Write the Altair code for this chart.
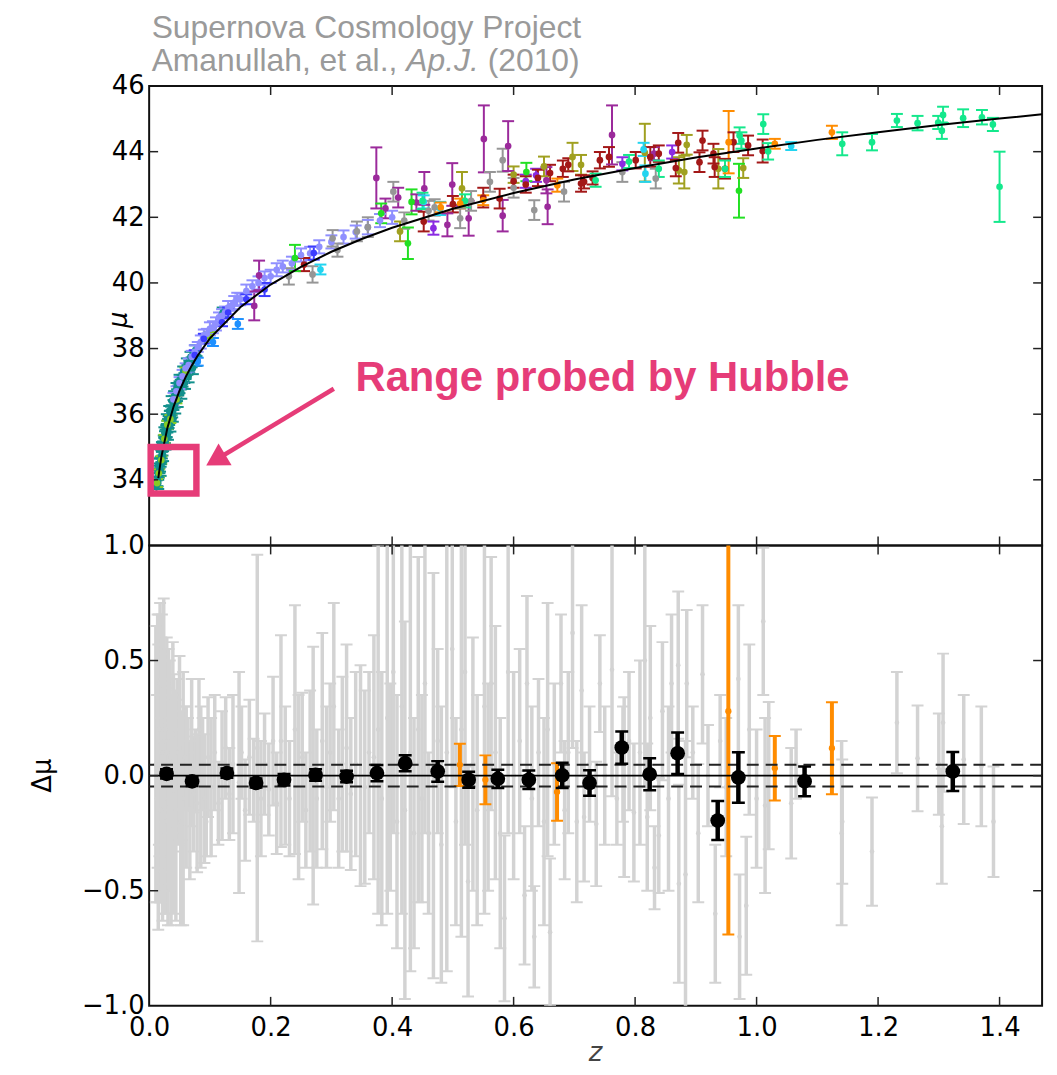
import altair as alt
import pandas as pd

# ---------------------------------------------------------------
# Union2 Hubble diagram: (redshift, distance modulus, 1-sigma error)
# one list per sample, coloured by sample
# ---------------------------------------------------------------
TEAL = [(0.012, 33.80, 0.18), (0.013, 33.95, 0.15), (0.014, 34.00, 0.20), (0.015, 34.15, 0.15),
        (0.016, 34.25, 0.18), (0.017, 34.35, 0.15), (0.018, 34.45, 0.20), (0.019, 34.55, 0.15),
        (0.020, 34.72, 0.18), (0.021, 34.80, 0.15), (0.022, 34.92, 0.18), (0.023, 35.02, 0.15),
        (0.024, 35.15, 0.20), (0.025, 35.12, 0.15), (0.026, 35.30, 0.18), (0.027, 35.38, 0.15),
        (0.028, 35.48, 0.18), (0.029, 35.45, 0.15), (0.030, 35.62, 0.18), (0.031, 35.70, 0.15),
        (0.032, 35.76, 0.18), (0.033, 35.82, 0.15), (0.034, 35.92, 0.18), (0.035, 35.96, 0.15),
        (0.036, 36.05, 0.18), (0.037, 36.12, 0.15), (0.038, 36.08, 0.18), (0.040, 36.28, 0.15),
        (0.042, 36.38, 0.18), (0.044, 36.52, 0.15), (0.046, 36.58, 0.18), (0.048, 36.72, 0.15),
        (0.050, 36.82, 0.18), (0.052, 36.90, 0.15), (0.055, 37.02, 0.18), (0.058, 37.10, 0.15),
        (0.060, 37.25, 0.18), (0.063, 37.35, 0.15), (0.066, 37.45, 0.18), (0.070, 37.58, 0.15),
        (0.078, 37.62, 0.15), (0.121, 39.10, 0.15),
        (0.015, 33.90, 0.18), (0.017, 34.50, 0.15), (0.019, 34.30, 0.18), (0.021, 35.00, 0.15),
        (0.023, 34.75, 0.18), (0.025, 35.45, 0.15), (0.027, 35.10, 0.18), (0.029, 35.85, 0.15),
        (0.031, 35.40, 0.18), (0.033, 36.10, 0.15), (0.035, 35.65, 0.18), (0.037, 36.40, 0.15),
        (0.039, 35.95, 0.18), (0.041, 36.55, 0.15), (0.043, 36.20, 0.18), (0.045, 36.80, 0.15),
        (0.047, 36.40, 0.18), (0.050, 37.05, 0.15), (0.053, 36.65, 0.18), (0.056, 37.30, 0.15),
        (0.059, 36.95, 0.18), (0.062, 37.55, 0.15), (0.065, 37.15, 0.18), (0.068, 37.75, 0.15),
        (0.072, 37.40, 0.18), (0.076, 37.95, 0.15)]

YELLOWGREEN = [(0.013, 33.90, 0.12), (0.016, 34.20, 0.12), (0.020, 34.60, 0.12), (0.025, 35.25, 0.12),
               (0.030, 35.68, 0.12), (0.035, 35.85, 0.12), (0.045, 36.45, 0.12), (0.060, 37.30, 0.12),
               (0.100, 38.35, 0.15)]

LAVENDER = [(0.040, 36.45, 0.20), (0.045, 36.70, 0.15), (0.050, 36.95, 0.18), (0.055, 37.15, 0.20),
            (0.060, 37.40, 0.15), (0.065, 37.50, 0.20), (0.070, 37.75, 0.18), (0.075, 37.90, 0.20),
            (0.080, 38.05, 0.15), (0.085, 38.20, 0.20), (0.090, 38.40, 0.18), (0.095, 38.45, 0.15),
            (0.100, 38.60, 0.20), (0.105, 38.65, 0.18), (0.110, 38.75, 0.20), (0.115, 38.95, 0.15),
            (0.120, 39.00, 0.20), (0.125, 39.10, 0.18), (0.130, 39.25, 0.20), (0.135, 39.30, 0.15),
            (0.140, 39.40, 0.20), (0.145, 39.50, 0.20), (0.150, 39.50, 0.18), (0.160, 39.75, 0.20),
            (0.170, 39.90, 0.18), (0.180, 40.00, 0.20), (0.190, 40.15, 0.20), (0.200, 40.20, 0.20),
            (0.210, 40.40, 0.20), (0.220, 40.50, 0.18), (0.235, 40.60, 0.20), (0.250, 40.85, 0.20),
            (0.265, 40.90, 0.20), (0.280, 41.10, 0.20), (0.300, 41.25, 0.20), (0.320, 41.40, 0.20),
            (0.340, 41.55, 0.20), (0.360, 41.70, 0.22), (0.380, 41.90, 0.20), (0.400, 42.00, 0.20)]

BLUE = [(0.075, 37.80, 0.15), (0.090, 38.30, 0.15), (0.120, 38.80, 0.12), (0.130, 39.10, 0.15),
        (0.160, 39.50, 0.15), (0.190, 39.80, 0.20), (0.271, 40.91, 0.20)]

DODGER = [(0.080, 37.60, 0.12), (0.105, 38.20, 0.12), (0.146, 38.75, 0.15)]

GREY_TOP = [(0.230, 40.20, 0.25), (0.269, 40.26, 0.25), (0.302, 41.36, 0.25), (0.310, 41.00, 0.20),
            (0.342, 41.57, 0.30), (0.360, 41.70, 0.30), (0.402, 42.78, 0.30), (0.420, 41.90, 0.25),
            (0.460, 42.20, 0.30), (0.470, 42.30, 0.25), (0.512, 41.97, 0.30), (0.530, 42.50, 0.30),
            (0.561, 43.08, 0.30), (0.582, 43.74, 0.35), (0.600, 42.90, 0.30), (0.634, 42.22, 0.30),
            (0.683, 42.78, 0.30), (0.779, 43.38, 0.30), (0.834, 43.18, 0.30)]

OLIVE = [(0.413, 41.57, 0.30), (0.515, 42.88, 0.50), (0.600, 43.30, 0.25), (0.650, 43.55, 0.30),
         (0.697, 43.84, 0.43), (0.711, 43.60, 0.30), (0.816, 43.97, 0.88), (0.872, 43.43, 0.40),
         (0.881, 43.38, 0.50), (0.885, 44.21, 0.30), (0.937, 43.48, 0.60), (0.978, 43.50, 0.30)]

VIOLET = [(0.468, 41.67, 0.20), (0.620, 43.10, 0.20), (0.637, 43.28, 0.20), (0.779, 43.63, 0.20),
          (0.861, 43.99, 0.20)]

PURPLE = [(0.173, 39.30, 0.44), (0.181, 40.23, 0.45), (0.374, 43.20, 0.93), (0.389, 42.27, 0.30),
          (0.410, 42.60, 0.30), (0.440, 42.45, 0.25), (0.453, 42.88, 0.50), (0.491, 41.77, 0.35),
          (0.499, 43.00, 0.65), (0.526, 41.97, 0.53), (0.551, 44.39, 1.02), (0.582, 42.05, 0.48),
          (0.591, 44.17, 0.76), (0.654, 43.13, 0.40), (0.656, 42.32, 0.53), (0.762, 44.51, 0.90),
          (0.831, 43.94, 0.20)]

DARKRED = [(0.255, 40.56, 0.20), (0.452, 41.87, 0.30), (0.500, 42.40, 0.25), (0.550, 42.60, 0.30),
           (0.577, 42.57, 0.30), (0.600, 43.10, 0.20), (0.620, 43.00, 0.25), (0.640, 43.20, 0.25),
           (0.660, 43.35, 0.25), (0.681, 43.48, 0.25), (0.690, 43.60, 0.20), (0.711, 43.03, 0.25),
           (0.716, 43.08, 0.20), (0.730, 43.20, 0.20), (0.742, 43.74, 0.25), (0.757, 43.84, 0.30),
           (0.801, 43.74, 0.25), (0.825, 43.84, 0.30), (0.839, 43.94, 0.25), (0.867, 43.50, 0.25),
           (0.871, 44.27, 0.30), (0.906, 43.68, 0.30), (0.911, 44.34, 0.30), (0.929, 43.94, 0.30),
           (0.931, 43.53, 0.30), (0.948, 43.48, 0.30), (0.962, 44.29, 0.30), (0.986, 44.19, 0.30),
           (1.010, 44.02, 0.35)]

CYAN = [(0.282, 40.41, 0.15), (0.452, 42.47, 0.20), (0.479, 42.27, 0.20), (0.814, 44.07, 0.20),
        (0.817, 43.33, 0.25), (1.057, 44.17, 0.12)]

LIME = [(0.240, 40.76, 0.40), (0.382, 42.12, 0.30), (0.426, 41.21, 0.48), (0.432, 42.47, 0.38),
        (0.621, 43.38, 0.28), (0.971, 42.81, 0.82)]

SPRING = [(0.450, 42.50, 0.25), (0.520, 42.50, 0.20), (0.735, 43.13, 0.20), (0.790, 43.70, 0.20),
          (0.839, 43.48, 0.25), (0.948, 43.48, 0.25), (0.972, 44.49, 0.25), (0.975, 44.34, 0.25),
          (1.011, 44.84, 0.30), (1.019, 44.01, 0.25), (1.141, 44.24, 0.35), (1.190, 44.29, 0.25),
          (1.231, 44.95, 0.20), (1.265, 44.87, 0.22), (1.299, 44.89, 0.20), (1.305, 44.64, 0.25),
          (1.307, 45.12, 0.25), (1.340, 45.02, 0.27), (1.371, 45.05, 0.22), (1.389, 44.83, 0.20),
          (1.400, 42.93, 1.07)]

ORANGE_TOP = [(0.480, 42.30, 0.15), (0.512, 42.42, 0.15), (0.550, 42.52, 0.15), (0.672, 42.98, 0.20),
              (0.954, 44.29, 0.95), (1.030, 44.24, 0.15), (1.124, 44.59, 0.20)]

# drawing order and colour of each sample
SAMPLES = [
    (TEAL, "#12908c"), (YELLOWGREEN, "#86cc24"), (LAVENDER, "#8f8fff"), (BLUE, "#3c3cff"),
    (DODGER, "#1e90ff"), (GREY_TOP, "#969696"), (OLIVE, "#a0a020"), (VIOLET, "#8a2be2"),
    (PURPLE, "#9b2a9b"), (DARKRED, "#a31818"), (CYAN, "#22d4f0"), (LIME, "#22e022"),
    (SPRING, "#14e88c"), (ORANGE_TOP, "#ff8c00"),
]

# best-fit cosmology curve
CURVE_Z = [0.015, 0.02, 0.03, 0.04, 0.05, 0.06, 0.07, 0.08, 0.10, 0.15, 0.20, 0.25, 0.30,
           0.35, 0.40, 0.50, 0.60, 0.70, 0.80, 0.90, 1.00, 1.10, 1.20, 1.30, 1.40, 1.47]
CURVE_MU = [34.05, 34.69, 35.58, 36.22, 36.72, 37.13, 37.48, 37.79, 38.31, 39.26, 39.95, 40.49,
            40.95, 41.34, 41.68, 42.26, 42.74, 43.15, 43.50, 43.82, 44.10, 44.36, 44.59, 44.81,
            45.01, 45.14]

# ---------------------------------------------------------------
# Hubble residuals: (redshift, delta mu, 1-sigma error)
# ---------------------------------------------------------------
GREY_RES = [
    (0.011, 0.05, 0.60), (0.013, -0.10, 0.45), (0.014, 0.15, 0.55), (0.015, -0.05, 0.62),
    (0.016, 0.20, 0.50), (0.017, 0.00, 0.35), (0.018, 0.10, 0.65), (0.019, -0.15, 0.40),
    (0.020, 0.05, 0.55), (0.021, 0.25, 0.45), (0.022, -0.05, 0.58), (0.023, 0.10, 0.30),
    (0.024, 0.15, 0.62), (0.025, -0.10, 0.50), (0.026, 0.00, 0.42), (0.027, 0.20, 0.35),
    (0.028, -0.20, 0.40), (0.029, 0.05, 0.55), (0.030, 0.10, 0.28), (0.031, -0.05, 0.60),
    (0.032, 0.15, 0.40), (0.033, -0.12, 0.35), (0.034, 0.00, 0.50), (0.035, 0.08, 0.25),
    (0.036, -0.20, 0.45), (0.038, 0.05, 0.30), (0.039, 0.18, 0.40), (0.040, -0.08, 0.52),
    (0.042, 0.02, 0.35), (0.044, -0.15, 0.48), (0.046, 0.10, 0.32), (0.048, -0.05, 0.25),
    (0.050, 0.12, 0.40), (0.052, -0.20, 0.45), (0.054, 0.00, 0.28), (0.056, -0.10, 0.55),
    (0.058, 0.08, 0.22), (0.061, -0.05, 0.35), (0.064, 0.05, 0.20), (0.067, -0.15, 0.30),
    (0.070, 0.10, 0.32), (0.073, -0.08, 0.25), (0.076, 0.02, 0.18), (0.079, -0.12, 0.30),
    (0.082, 0.20, 0.22), (0.085, -0.05, 0.35), (0.088, 0.05, 0.20), (0.091, -0.10, 0.28),
    (0.094, -0.20, 0.15), (0.097, 0.08, 0.26),
    (0.102, -0.05, 0.30), (0.108, 0.10, 0.25), (0.114, -0.12, 0.18), (0.120, 0.00, 0.28),
    (0.126, 0.12, 0.22), (0.132, -0.08, 0.20), (0.138, 0.05, 0.30), (0.148, -0.03, 0.48),
    (0.152, 0.10, 0.20), (0.158, -0.15, 0.22), (0.165, 0.08, 0.25), (0.172, -0.02, 0.18),
    (0.178, 0.12, 0.84), (0.184, -0.10, 0.25), (0.190, 0.05, 0.22), (0.197, -0.06, 0.20),
    (0.204, 0.15, 0.28), (0.210, -0.12, 0.22), (0.217, 0.15, 0.46), (0.224, 0.00, 0.30),
    (0.231, -0.10, 0.25), (0.240, 0.20, 0.54), (0.246, -0.05, 0.40), (0.252, 0.08, 0.28),
    (0.258, -0.15, 0.25), (0.265, 0.02, 0.35), (0.270, 0.00, 0.56), (0.276, -0.10, 0.30),
    (0.285, 0.15, 0.47), (0.292, -0.05, 0.35), (0.298, 0.10, 0.30), (0.304, 0.30, 0.45),
    (0.312, -0.10, 0.30), (0.318, 0.05, 0.38), (0.325, 0.12, 0.45), (0.332, -0.08, 0.33),
    (0.340, 0.05, 0.40), (0.348, 0.00, 0.48), (0.355, -0.05, 0.42), (0.362, 0.10, 0.35),
    (0.370, 0.08, 0.53),
    (0.377, 0.20, 0.80), (0.383, -0.10, 0.55), (0.392, 0.25, 0.85), (0.397, -0.05, 0.45),
    (0.402, 0.45, 0.70), (0.408, -0.20, 0.55), (0.416, 0.30, 0.90), (0.421, -0.15, 0.82),
    (0.430, 0.10, 0.95), (0.436, -0.25, 0.50), (0.443, 0.20, 0.75), (0.449, -0.10, 0.45),
    (0.454, 0.40, 0.65), (0.460, -0.25, 0.35), (0.468, 0.00, 0.88), (0.475, 0.15, 0.40),
    (0.481, -0.30, 0.60), (0.490, 0.10, 0.95), (0.499, 0.55, 0.60), (0.505, -0.20, 0.45),
    (0.514, 0.20, 0.90), (0.520, 0.45, 0.75), (0.525, -0.46, 0.50), (0.533, 0.05, 0.55),
    (0.540, -0.15, 0.50), (0.552, 0.30, 0.90), (0.558, -0.05, 0.45), (0.563, 0.40, 0.55),
    (0.570, 0.10, 0.55), (0.578, -0.25, 0.50), (0.585, -0.62, 0.36), (0.591, 0.45, 0.70),
    (0.600, 0.00, 0.45), (0.610, 0.15, 0.40), (0.618, -0.52, 0.30), (0.622, 0.40, 0.38),
    (0.630, -0.10, 0.40), (0.634, -0.70, 0.22), (0.641, 0.10, 0.32), (0.650, -0.20, 0.45),
    (0.656, 0.20, 0.55), (0.660, -0.68, 0.32), (0.667, 0.05, 0.35), (0.678, 0.40, 0.30),
    (0.684, -0.15, 0.30), (0.690, 0.10, 0.35), (0.697, 0.62, 0.50), (0.704, -0.20, 0.35),
    (0.712, 0.37, 0.37), (0.716, -0.18, 0.28), (0.725, 0.05, 0.25), (0.736, -0.21, 0.27),
    (0.742, 0.40, 0.21), (0.750, 0.00, 0.30), (0.762, 0.46, 0.55), (0.770, -0.10, 0.20),
    (0.780, 0.05, 0.25), (0.782, -0.05, 0.39), (0.790, 0.15, 0.30), (0.798, -0.16, 0.30),
    (0.808, 0.10, 0.40), (0.816, 0.50, 0.55), (0.820, -0.18, 0.32), (0.825, 0.25, 0.40),
    (0.832, -0.40, 0.18), (0.839, -0.26, 0.25), (0.845, 0.28, 0.30), (0.855, -0.10, 0.40),
    (0.860, 0.40, 0.30), (0.871, 0.48, 0.32), (0.872, -0.47, 0.43), (0.883, -0.43, 0.58),
    (0.885, 0.40, 0.32), (0.895, 0.10, 0.20), (0.904, -0.25, 0.30), (0.911, 0.44, 0.30),
    (0.920, 0.00, 0.22), (0.932, -0.60, 0.30), (0.940, 0.15, 0.20), (0.950, -0.05, 0.30),
    (0.970, 0.42, 0.32), (0.972, -0.70, 0.27), (0.983, -0.565, 0.30), (0.988, 0.20, 0.37),
    (1.000, -0.10, 0.30), (1.011, 0.67, 0.32), (1.014, -0.13, 0.38), (1.020, 0.00, 0.32),
    (1.057, -0.12, 0.24), (1.065, 0.05, 0.15), (1.140, -0.25, 0.40), (1.141, -0.20, 0.27),
    (1.190, -0.33, 0.235), (1.231, 0.23, 0.22), (1.265, 0.075, 0.23), (1.300, 0.05, 0.22),
    (1.305, -0.22, 0.25), (1.307, 0.23, 0.30), (1.341, 0.07, 0.28), (1.370, 0.04, 0.26),
    (1.390, -0.20, 0.24),
]

ORANGE_RES = [(0.5115, 0.047, 0.092), (0.5535, -0.018, 0.106), (0.6715, -0.071, 0.125),
              (0.9535, 0.280, 0.970), (1.030, 0.032, 0.140), (1.124, 0.119, 0.200)]

BINNED = [(0.0286, 0.008, 0.020), (0.0707, -0.025, 0.020), (0.128, 0.011, 0.020),
          (0.176, -0.032, 0.020), (0.222, -0.018, 0.025), (0.274, 0.003, 0.025),
          (0.325, -0.004, 0.025), (0.375, 0.011, 0.035), (0.4215, 0.054, 0.035),
          (0.475, 0.018, 0.045), (0.526, -0.018, 0.035), (0.574, -0.014, 0.040),
          (0.625, -0.018, 0.040), (0.680, 0.001, 0.055), (0.725, -0.032, 0.055),
          (0.778, 0.122, 0.070), (0.824, 0.006, 0.070), (0.870, 0.097, 0.090),
          (0.936, -0.195, 0.085), (0.970, -0.008, 0.110), (1.079, -0.025, 0.065),
          (1.323, 0.018, 0.085)]

SYS_BAND = [0.047, -0.047]

X_TICKS = [0.0, 0.2, 0.4, 0.6, 0.8, 1.0, 1.2, 1.4]
MU_TICKS = [34, 36, 38, 40, 42, 44, 46]
DMU_TICKS = [-1.0, -0.5, 0.0, 0.5, 1.0]

# annotation of the nearby-supernova range
BOX = {"z": [0.0025], "z2": [0.0778], "mu": [35.0], "mu2": [33.58]}
ARROW = {"z": [0.304], "mu": [36.775], "z2": [0.1095], "mu2": [34.605]}
PINK = "#e63c78"

# ---------------------------------------------------------------
PANEL_W = 898
TOP_H = 462
BOT_H = 463
TICK_LEN = 9
LABEL_FONT = "DejaVu Sans"
TITLE_FONT = "Liberation Sans"

x_scale = alt.Scale(domain=[0, 1.47], nice=False, zero=False)
mu_scale = alt.Scale(domain=[32, 46], nice=False, zero=False)
dmu_scale = alt.Scale(domain=[-1, 1], nice=False, zero=False)

axis_common = dict(ticks=False, domain=False, grid=False, labelFont=LABEL_FONT,
                   labelFontSize=26, labelColor="black", labelFlush=False, title=None)
x_axis = alt.Axis(values=X_TICKS, format=".1f", labelPadding=9, **axis_common)
mu_axis = alt.Axis(values=MU_TICKS, format="d", labelPadding=5, **axis_common)
dmu_axis = alt.Axis(values=DMU_TICKS, format=".1f", labelPadding=5, **axis_common)


def rows_to_frame(rows, color=None):
    df = pd.DataFrame(rows, columns=["z", "v", "e"])
    df["lo"] = df["v"] - df["e"]
    df["hi"] = df["v"] + df["e"]
    if color is not None:
        df["c"] = color
    return df


top_df = pd.concat([rows_to_frame(r, c) for r, c in SAMPLES], ignore_index=True)
grey_df = rows_to_frame(GREY_RES, "#d3d3d3")
orange_df = rows_to_frame(ORANGE_RES, "#ff8c00")
binned_df = rows_to_frame(BINNED, "black")
curve_df = pd.DataFrame({"z": CURVE_Z, "v": CURVE_MU})


def errorbars(df, xaxis, yscale, yaxis, bar_w, cap_w, cap_t, dot_size, clip=False):
    base = alt.Chart(df)
    xenc = alt.X("z:Q", scale=x_scale, axis=xaxis)
    col = alt.Color("c:N", scale=None)
    bars = base.mark_rule(strokeWidth=bar_w, clip=clip).encode(
        x=xenc, y=alt.Y("lo:Q", scale=yscale, axis=yaxis), y2="hi:Q", color=col)
    caps = [
        base.mark_tick(orient="horizontal", size=cap_w, thickness=cap_t, opacity=1, clip=clip).encode(
            x=xenc, y=alt.Y(f"{end}:Q", scale=yscale, axis=yaxis), color=col)
        for end in ("lo", "hi")
    ]
    dots = base.mark_circle(size=dot_size, opacity=1, clip=clip).encode(
        x=xenc, y=alt.Y("v:Q", scale=yscale, axis=yaxis), color=col)
    return [bars] + caps + [dots]


def inner_ticks(xaxis, yscale, yaxis, yvalues, height):
    """matplotlib-style ticks pointing into the frame on all four sides"""
    xt = alt.Chart(pd.DataFrame({"t": X_TICKS[1:]}))
    yt = alt.Chart(pd.DataFrame({"t": yvalues}))
    style = dict(color="#222222", strokeWidth=1.5)
    xenc = alt.X("t:Q", scale=x_scale, axis=xaxis)
    yenc = alt.Y("t:Q", scale=yscale, axis=yaxis)
    return [
        xt.mark_rule(**style).encode(x=xenc, y=alt.value(0), y2=alt.value(TICK_LEN)),
        xt.mark_rule(**style).encode(x=xenc, y=alt.value(height - TICK_LEN), y2=alt.value(height)),
        yt.mark_rule(**style).encode(y=yenc, x=alt.value(0), x2=alt.value(TICK_LEN)),
        yt.mark_rule(**style).encode(y=yenc, x=alt.value(PANEL_W - TICK_LEN), x2=alt.value(PANEL_W)),
    ]


one = pd.DataFrame({"k": [0]})


def label(text, x, y, align="left", baseline="alphabetic", **kw):
    return alt.Chart(one).mark_text(text=text, align=align, baseline=baseline, **kw).encode(
        x=alt.value(x), y=alt.value(y))


# ---------------- top panel: Hubble diagram ----------------
curve = alt.Chart(curve_df).mark_line(color="black", strokeWidth=2).encode(
    x=alt.X("z:Q", scale=x_scale, axis=None),
    y=alt.Y("v:Q", scale=mu_scale, axis=mu_axis))

box = alt.Chart(pd.DataFrame(BOX)).mark_rect(fillOpacity=0, stroke=PINK, strokeWidth=6.5).encode(
    x=alt.X("z:Q", scale=x_scale, axis=None), x2="z2:Q",
    y=alt.Y("mu:Q", scale=mu_scale, axis=mu_axis), y2="mu2:Q")
arrow_shaft = alt.Chart(pd.DataFrame(ARROW)).mark_rule(color=PINK, strokeWidth=4.5).encode(
    x=alt.X("z:Q", scale=x_scale, axis=None), x2="z2:Q",
    y=alt.Y("mu:Q", scale=mu_scale, axis=mu_axis), y2="mu2:Q")
arrow_head = alt.Chart(pd.DataFrame(ARROW)).mark_point(
    shape="triangle-up", filled=True, size=650, angle=239, color=PINK, opacity=1).encode(
    x=alt.X("z2:Q", scale=x_scale, axis=None),
    y=alt.Y("mu2:Q", scale=mu_scale, axis=mu_axis))

TITLE_SIZE = 32
title_style = dict(font=TITLE_FONT, fontSize=TITLE_SIZE, color="#9a9a9a")
# left edges of the pieces of the second title line, from Arial advance widths (em)
AUTHOR_EM = 8.004
JOURNAL_EM = 2.279
SPACE_EM = 0.278
titles = [
    label("Supernova Cosmology Project", 2.5, -48, **title_style),
    label("Amanullah, et al.,", 2.5, -15, **title_style),
    label("Ap.J.", 2.5 + AUTHOR_EM * TITLE_SIZE, -15, fontStyle="italic", **title_style),
    label("(2010)", 2.5 + (AUTHOR_EM + JOURNAL_EM + SPACE_EM) * TITLE_SIZE, -15, **title_style),
    label("Range probed by Hubble", 207.5, 306.5, font=TITLE_FONT, fontSize=42,
          fontWeight="bold", color=PINK),
    label("μ", -30, 235, align="center", baseline="middle", font=LABEL_FONT, fontSize=26,
          fontStyle="italic", angle=270, color="black"),
]

top = alt.layer(
    *errorbars(top_df, None, mu_scale, mu_axis, 2, 12, 2, 45),
    curve,
    *inner_ticks(None, mu_scale, mu_axis, MU_TICKS[:-1], TOP_H),
    box, arrow_shaft, arrow_head,
    *titles,
).properties(width=PANEL_W, height=TOP_H)

# ---------------- bottom panel: residuals ----------------
zero_line = alt.Chart(one).mark_rule(color="black", strokeWidth=1.8).encode(
    y=alt.datum(0.0, scale=dmu_scale))
band = alt.Chart(pd.DataFrame({"b": SYS_BAND})).mark_rule(
    color="#222222", strokeWidth=2, strokeDash=[12, 7]).encode(
    y=alt.Y("b:Q", scale=dmu_scale, axis=dmu_axis))

bottom_titles = [
    label("Δμ", -107, BOT_H / 2, align="center", baseline="middle", font=LABEL_FONT,
          fontSize=26, angle=270, color="black"),
    label("z", PANEL_W / 2, BOT_H + 47, align="center", baseline="middle", font=LABEL_FONT,
          fontSize=26, fontStyle="italic", color="#444444"),
]

bottom = alt.layer(
    *errorbars(grey_df, x_axis, dmu_scale, dmu_axis, 3.5, 12, 2, 22, clip=True),
    *errorbars(orange_df, x_axis, dmu_scale, dmu_axis, 4, 12, 2, 40, clip=True),
    zero_line, band,
    *errorbars(binned_df, x_axis, dmu_scale, dmu_axis, 4.5, 13, 2.5, 220, clip=True),
    *inner_ticks(x_axis, dmu_scale, dmu_axis, DMU_TICKS[1:-1], BOT_H),
    *bottom_titles,
).properties(width=PANEL_W, height=BOT_H)

chart = alt.vconcat(top, bottom, spacing=0, bounds="flush").properties(
    padding={"left": 29, "top": 8.5, "right": 10, "bottom": 0}
).configure_view(stroke="#111111", strokeWidth=2)

chart.save("out.html", embed_options={"renderer": "svg", "actions": False})
